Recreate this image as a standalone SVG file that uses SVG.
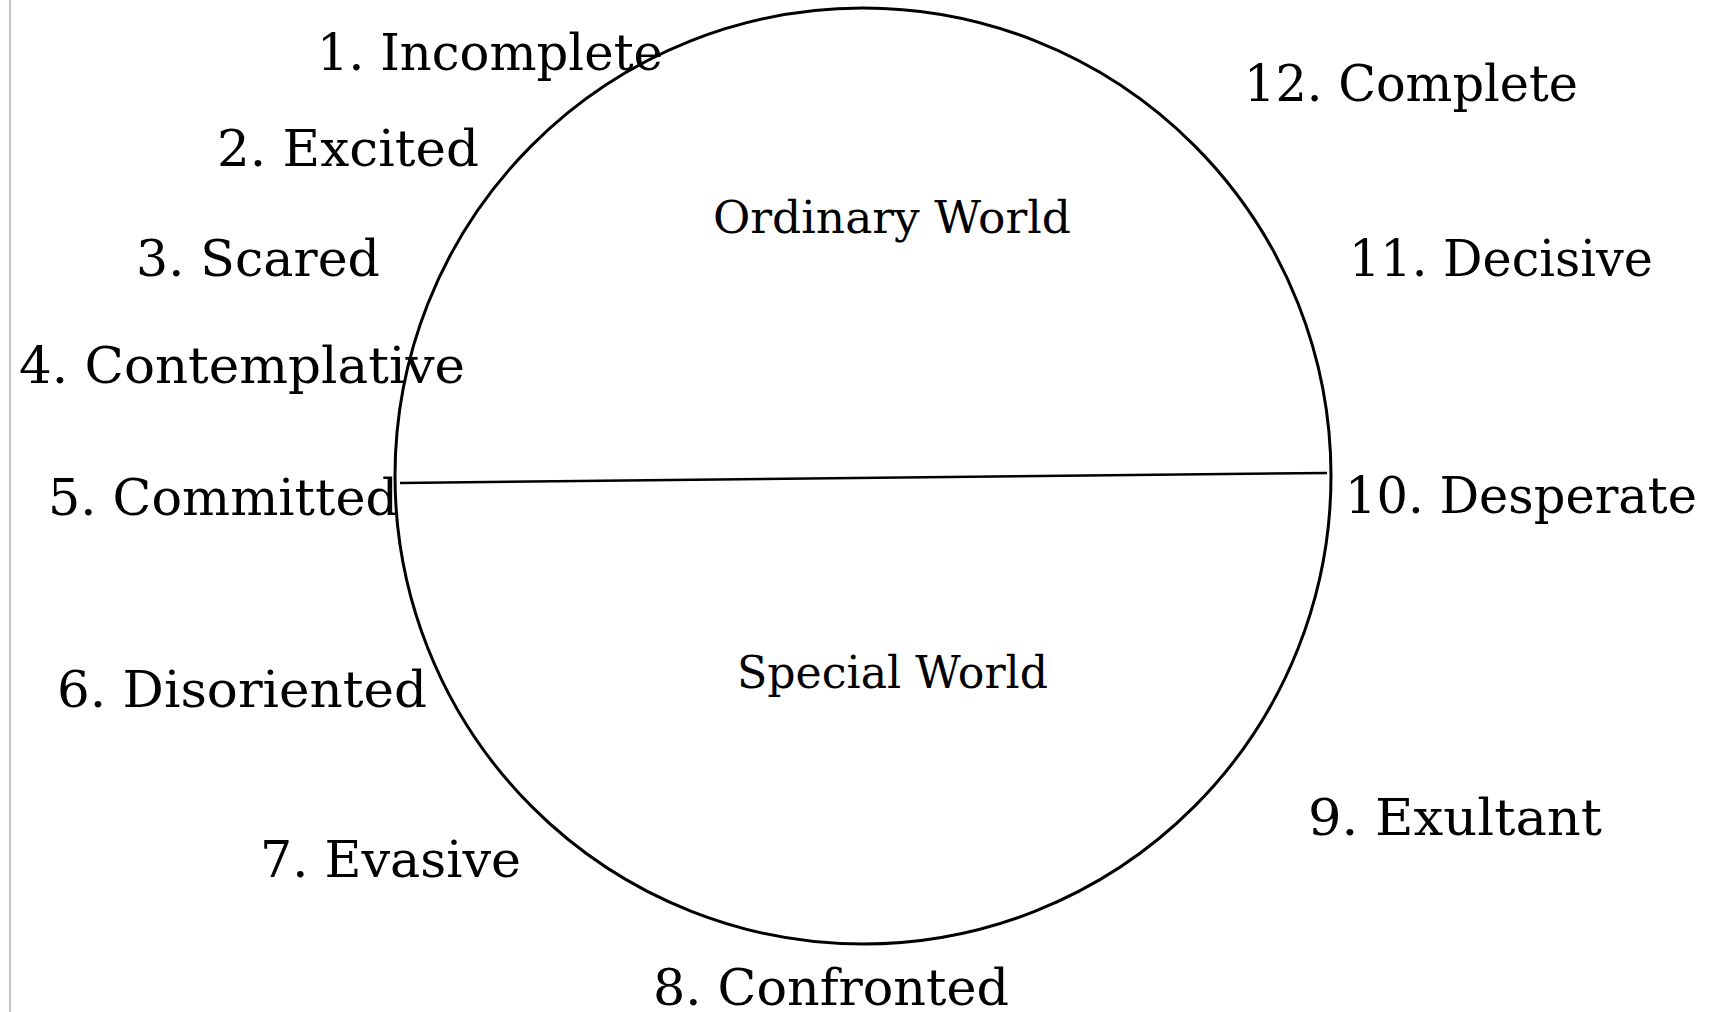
<svg xmlns="http://www.w3.org/2000/svg" width="1711" height="1012" viewBox="0 0 1711 1012">
<style>
.lbl{font-family:"DejaVu Serif","Liberation Serif",serif;font-size:50px;fill:#000}
.world{font-family:"DejaVu Serif","Liberation Serif",serif;font-size:44px;fill:#000}
</style>
<rect width="1711" height="1012" fill="#fff"/>
<line x1="10" y1="0" x2="10" y2="1012" stroke="#888" stroke-width="1"/>
<g id="circle"><circle cx="863" cy="476" r="468" fill="none" stroke="#000" stroke-width="3"/></g>
<g id="connectors"><line x1="400" y1="483" x2="1327" y2="473" stroke="#000" stroke-width="2.5"/></g>
<g id="ordinary"><text class="world" x="713" y="233" textLength="358" lengthAdjust="spacingAndGlyphs">Ordinary World</text></g>
<g id="special"><text class="world" x="737" y="688" textLength="311" lengthAdjust="spacingAndGlyphs">Special World</text></g>
<g id="s1"><text class="lbl" x="317" y="70" textLength="346" lengthAdjust="spacingAndGlyphs">1. Incomplete</text></g>
<g id="s2"><text class="lbl" x="217" y="166" textLength="262" lengthAdjust="spacingAndGlyphs">2. Excited</text></g>
<g id="s3"><text class="lbl" x="136" y="276" textLength="244" lengthAdjust="spacingAndGlyphs">3. Scared</text></g>
<g id="s4"><text class="lbl" x="19" y="383" textLength="446" lengthAdjust="spacingAndGlyphs">4. Contemplative</text></g>
<g id="s5"><text class="lbl" x="48" y="515" textLength="350" lengthAdjust="spacingAndGlyphs">5. Committed</text></g>
<g id="s6"><text class="lbl" x="57" y="707" textLength="370" lengthAdjust="spacingAndGlyphs">6. Disoriented</text></g>
<g id="s7"><text class="lbl" x="260" y="877" textLength="261" lengthAdjust="spacingAndGlyphs">7. Evasive</text></g>
<g id="s8"><text class="lbl" x="653" y="1005" textLength="356" lengthAdjust="spacingAndGlyphs">8. Confronted</text></g>
<g id="s9"><text class="lbl" x="1308" y="835" textLength="294" lengthAdjust="spacingAndGlyphs">9. Exultant</text></g>
<g id="s10"><text class="lbl" x="1345" y="513" textLength="352" lengthAdjust="spacingAndGlyphs">10. Desperate</text></g>
<g id="s11"><text class="lbl" x="1349" y="276" textLength="304" lengthAdjust="spacingAndGlyphs">11. Decisive</text></g>
<g id="s12"><text class="lbl" x="1244" y="101" textLength="334" lengthAdjust="spacingAndGlyphs">12. Complete</text></g>
</svg>
